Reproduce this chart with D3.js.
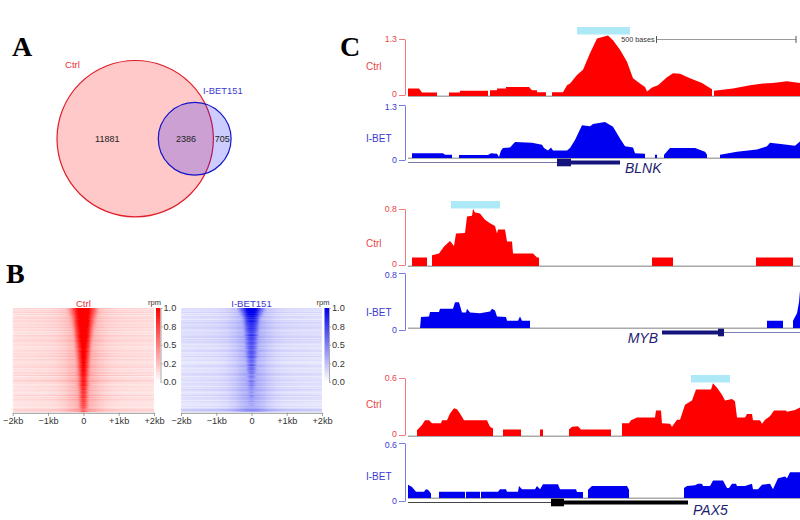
<!DOCTYPE html>
<html><head><meta charset="utf-8">
<script src="https://cdn.jsdelivr.net/npm/d3@7"></script>
<style>
html,body{margin:0;padding:0;background:#fff}
svg{display:block}
text{font-family:"Liberation Sans",Arial,sans-serif}
</style></head><body><svg id="c" width="800" height="520"></svg>
<script>
// ---------- Panel A: overlap counts
const vennCounts = {ctrlOnly: 11881, both: 2386, ibetOnly: 705};

// ---------- Panel B: per-row readings (top to bottom of the heat maps)
const hmTicks = [-2, -1, 0, 1, 2];
const hmTickLabels = ["\u22122kb", "\u22121kb", "0", "+1kb", "+2kb"];
const barTicks = [0, 0.25, 0.5, 0.75, 1];
const barLabels = ["0.0", "0.2", "0.5", "0.8", "1.0"];
const ctrlRowBg = [.20,.17,.22,.19,.16,.20,.17,.14,.19,.16,.13,.18,.15,.12,.17,.14,.19,.13,.16,.12,.15,.18,.11,.14,.20,.12,.15,.10,.13,.17,.11,.14,.19,.12,.10,.15,.23,.12,.09,.14,.11,.17,.10,.13,.09,.12,.15,.10,.13,.11,.14,.22];
const ctrlPeak = [1,1,1,1,1,1,1,1,1,1,1,1,.98,.98,1,.96,1,.95,.96,.98,.92,.95,.92,.9,.94,.9,.88,.92,.86,.88,.84,.86,.82,.85,.8,.82,.84,.76,.8,.72,.76,.7,.74,.66,.7,.62,.66,.6,.62,.58,.55,.5];
const ctrlWidth = [.38,.38,.37,.35,.34,.33,.32,.31,.30,.29,.28,.27,.27,.26,.25,.24,.24,.23,.22,.22,.21,.21,.20,.20,.19,.19,.19,.18,.18,.18,.17,.17,.17,.17,.16,.16,.16,.16,.16,.16,.15,.15,.15,.15,.15,.15,.15,.15,.15,.15,.15,.15];
const ibetRowBg = [.16,.15,.19,.14,.17,.13,.16,.19,.12,.15,.18,.11,.16,.13,.19,.11,.14,.17,.10,.15,.12,.18,.10,.14,.20,.11,.15,.09,.13,.17,.10,.14,.12,.18,.09,.13,.16,.10,.14,.08,.12,.16,.09,.13,.10,.15,.08,.12,.09,.13,.15,.26];
const ibetPeak = [.95,.95,.92,.9,.85,.82,.78,.74,.72,.7,.72,.68,.66,.68,.62,.65,.6,.64,.58,.62,.6,.56,.6,.55,.62,.52,.56,.5,.55,.48,.52,.46,.5,.44,.48,.42,.45,.4,.43,.38,.4,.36,.38,.34,.35,.3,.32,.28,.3,.26,.24,.22];
const ibetWidth = [.36,.34,.32,.30,.28,.27,.26,.26,.25,.24,.24,.23,.22,.22,.22,.21,.21,.21,.20,.20,.20,.19,.19,.19,.19,.18,.18,.18,.17,.17,.17,.17,.16,.16,.16,.16,.16,.16,.16,.15,.15,.15,.15,.15,.15,.15,.15,.15,.15,.15,.15,.15];
const hmBins = [];
for (let i = -40; i <= 40; i++) hmBins.push(i / 20);

// ---------- Panel C: coverage tracks. [position along the 392-unit window, % of track maximum]; null = gap
const blnkCtrl = [[0,13],[11,13],[14,6],[29,6],[29,null],[41,null],[41,6],[52,6],[52,9],[80,9],[80,null],[82,null],[82,10],[89,10],[89,13],[98,13],[98,16],[121,16],[124,10],[129,10],[129,6.5],[138,6.5],[138,null],[144,null],[144,6.5],[155,6.5],[159,19],[162,22],[169,37],[175,46],[182,75],[189,101],[200,106],[205,98],[212,81],[219,60],[225,31],[232,22],[237,16],[239,8],[244,15],[250,19],[259,33],[265,40],[272,39],[282,31],[294,23],[304,12],[304,null],[306,null],[306,9],[325,13],[342,19],[355,22],[365,23],[379,26],[392,23]];
const blnkIbet = [[4,9],[35,9],[37,6],[44,6],[44,null],[51,null],[51,5.6],[80,5.6],[83,9],[89,8],[91,2],[93,14],[95,19],[102,20],[107,30],[124,29],[134,25],[136,19],[140,14],[143,20],[145,14],[159,14],[162,19],[167,34],[174,62],[182,60],[185,64],[197,68],[205,59],[212,37],[217,22],[225,20],[227,9],[237,8],[237,null],[247,null],[247,6],[249,6],[249,null],[256,null],[256,6],[262,19],[287,19],[297,12],[299,6],[299,null],[312,null],[312,6],[329,12],[349,16],[359,22],[362,29],[379,25],[387,23],[392,31]];
const mybCtrl = [[4,15],[19,15],[19,null],[24,null],[24,19],[31,22],[36,34],[42,44],[46,35],[48,57],[57,58],[59,87],[64,88],[65,100],[67,94],[72,92],[77,81],[82,75],[87,70],[89,57],[90,64],[97,64],[99,43],[104,43],[105,22],[125,22],[129,15],[131,15],[131,null],[244,null],[244,15],[265,15],[265,null],[348,null],[348,15],[385,15]];
const mybIbet = [[12,0],[13,20],[21,21],[22,29],[31,29],[32,35],[45,35],[47,47],[51,47],[54,28],[58,28],[59,35],[62,28],[72,27],[82,30],[84,35],[87,32],[89,21],[98,20],[99,13],[110,13],[112,21],[114,13],[122,13],[122,null],[359,null],[359,13],[375,13],[375,null],[385,null],[385,13],[389,27],[391,47],[392,68]];
const pax5Ctrl = [[9,0],[9,10],[14,19],[17,27],[21,27],[24,22],[33,22],[34,27],[39,27],[42,39],[46,48],[49,46],[52,39],[56,27],[79,27],[82,16],[85,13],[85,null],[95,null],[95,11],[113,11],[113,null],[132,null],[132,11],[135,11],[135,null],[161,null],[161,11],[164,16],[170,17],[173,11],[203,11],[203,null],[214,null],[214,22],[221,22],[223,27],[229,32],[247,32],[248,44],[253,44],[254,22],[262,21],[264,16],[269,28],[272,28],[277,54],[284,61],[288,80],[303,80],[305,91],[309,83],[314,71],[317,61],[324,64],[327,60],[329,32],[337,32],[339,38],[344,38],[345,27],[352,27],[354,21],[357,28],[362,34],[366,44],[378,44],[379,42],[387,45],[392,49]];
const pax5Ibet = [[0,24],[4,20],[8,11.5],[16,11.5],[18,16],[20,15],[23,8],[23,null],[31,null],[31,11.5],[57,11.5],[57,null],[58,null],[58,11.5],[72,11.5],[72,null],[73,null],[73,11.5],[90,11.5],[92,16],[98,16],[99,11.5],[110,11.5],[111,22],[114,16],[127,16],[129,22],[132,16],[135,25],[150,25],[152,16],[168,16],[169,11],[175,11],[175,null],[180,null],[180,15],[184,22],[219,22],[221,15],[221,null],[276,null],[276,18],[279,22],[287,23],[290,26],[294,26],[295,22],[302,22],[305,32],[315,32],[319,18],[321,18],[324,26],[328,26],[329,22],[337,22],[344,26],[345,16],[350,16],[354,24],[362,26],[365,16],[367,24],[370,36],[377,39],[379,36],[382,47],[392,47]];

const groups = [
 {max:1.3, ctrl:blnkCtrl, ibet:blnkIbet, top:39, base:96, axB:95, top2:105, base2:158, axB2:160, cy:66, iy:138,
  peak:[169,222], peakY:27, gene:"BLNK", geneX:625, geneY:173, geneAnchor:"start", lineY:162.5, geneCol:"#14147c", thinCol:"#77779f",
  thin:[0,149], box:[149,163], thick:[163,212]},
 {max:0.8, ctrl:mybCtrl, ibet:mybIbet, top:209, base:266, axB:265, top2:273, base2:328, axB2:330, cy:243, iy:312,
  peak:[43,92], peakY:201, gene:"MYB", geneX:658, geneY:343, geneAnchor:"end", lineY:332.5, geneCol:"#14147c", thinCol:"#7c7cb8",
  thin:[316,392], box:[310,316], thick:[254,310]},
 {max:0.6, ctrl:pax5Ctrl, ibet:pax5Ibet, top:378, base:436, axB:435, top2:443, base2:498, axB2:501, cy:404, iy:476,
  peak:[283,322], peakY:375, gene:"PAX5", geneX:693, geneY:514.5, geneAnchor:"start", lineY:502.5, geneCol:"#000", thinCol:"#444",
  thin:[0,143], box:[143,156], thick:[156,280]}
];

const svg = d3.select("#c");
const RED="#ff0000", BLUE="#0000f0";

// panel letters
[["A",12,56],["B",6,283],["C",340,56]].forEach(([t,x,y])=>{
  svg.append("text").attr("x",x).attr("y",y).text(t)
    .style("font-family","'Liberation Serif',serif").style("font-weight","bold").style("font-size","28px").attr("fill","#000");
});

// ---------- Venn
const rScale = d3.scaleSqrt().domain([0, vennCounts.ctrlOnly+vennCounts.both]).range([0,78.2]);
const vx = d3.scaleLinear().domain([0,100]).range([135.2,194.7]);
const venn = svg.append("g");
venn.append("circle").attr("cx",vx(0)).attr("cy",138.7).attr("r",rScale(vennCounts.ctrlOnly+vennCounts.both))
  .attr("fill","rgba(255,0,0,.21)").attr("stroke","#e01f2a").attr("stroke-width",1.2);
venn.append("circle").attr("cx",vx(100)).attr("cy",138.8).attr("r",rScale(vennCounts.both+vennCounts.ibetOnly))
  .attr("fill","rgba(0,0,255,.2)").attr("stroke","#1414c8").attr("stroke-width",1.2);
[[vennCounts.ctrlOnly,107.3],[vennCounts.both,186],[vennCounts.ibetOnly,222.3]].forEach(([v,x])=>{
  venn.append("text").attr("x",x).attr("y",142.3).attr("text-anchor","middle").attr("font-size",9).attr("fill","#222").text(v);
});
venn.append("text").attr("x",65).attr("y",67.5).attr("font-size",9.6).attr("fill","#e8303a").text("Ctrl");
venn.append("text").attr("x",203).attr("y",94).attr("font-size",9.4).attr("fill","#3a3ad0").text("I-BET151");

// ---------- Heat maps
const defs = svg.append("defs");
defs.append("filter").attr("id","soft").attr("x","-2%").attr("y","-2%").attr("width","104%").attr("height","104%")
  .append("feGaussianBlur").attr("stdDeviation","1 0.5");
function heat(opts){
  const {x0,x1,title,col,titleCol,bg,peak,width,barX,id}=opts;
  const y0=307.7,y1=412.3;
  const n=bg.length;
  // each reading covers two one-pixel scan rows; the second row carries the streak of another reading
  const rows=d3.range(n*2);
  const x=d3.scaleLinear().domain([-2,2]).range([x0,x1]);
  const y=d3.scaleBand().domain(rows).range([y0,y1]);
  const colour=d3.scaleLinear().domain([0,1]).range(["#ffffff",col]).clamp(true);
  const clipId="clip"+id;
  defs.append("clipPath").attr("id",clipId).append("rect").attr("x",x0).attr("y",y0).attr("width",x1-x0).attr("height",y1-y0);
  const g=svg.append("g").attr("clip-path",`url(#${clipId})`).append("g").attr("filter","url(#soft)");
  const cw=(x1-x0)/(hmBins.length-1);
  rows.forEach(r=>{
    const i=Math.floor(r/2);
    const b=r%2?bg[(i*7+13)%n]:bg[i];
    const pk=r%2?(peak[i]+peak[(i*7+13)%n])/2*.4+peak[i]*.6:peak[i];
    const w=width[i];
    g.selectAll(null).data(hmBins).join("rect")
      .attr("x",d=>x(d)-cw/2).attr("y",y(r)).attr("width",cw+.4).attr("height",y.bandwidth()+.4)
      .attr("shape-rendering","crispEdges")
      .attr("fill",d=>{
        const core=1.15*pk*Math.exp(-Math.pow(Math.abs(d)/w,2.4));
        const halo=.18*Math.exp(-Math.pow(d/.5,2));
        const edge=.02+b*(1-.3*Math.abs(d)/2);
        return colour(Math.max(core, edge+halo));
      });
  });
  const ax=d3.axisBottom(x).tickValues(hmTicks).tickFormat((d,i)=>hmTickLabels[i]).tickSize(3).tickSizeOuter(0);
  const ag=svg.append("g").attr("transform",`translate(0,${y1+.5})`).call(ax);
  ag.selectAll("path,line").attr("stroke","#999");
  ag.selectAll("text").attr("font-size",9.2).attr("fill","#333").attr("dy","0.55em").style("font-family","'Liberation Sans',sans-serif");
  svg.append("text").attr("x",x(0)).attr("y",306.5).attr("text-anchor","middle").attr("font-size",9.6).attr("fill",titleCol).text(title);
  // colour bar
  const gr=defs.append("linearGradient").attr("id","grad"+id).attr("x1",0).attr("x2",0).attr("y1",1).attr("y2",0);
  barTicks.forEach(t=>gr.append("stop").attr("offset",t).attr("stop-color",colour(t)));
  const by=d3.scaleLinear().domain([0,1]).range([381.7,308]);
  svg.append("rect").attr("x",barX).attr("y",by(1)).attr("width",4.5).attr("height",by(0)-by(1)).attr("fill",`url(#grad${id})`);
  const bax=d3.axisRight(by).tickValues(barTicks).tickFormat((d,i)=>barLabels[i]).tickSize(2).tickSizeOuter(0).tickPadding(1);
  const bg2=svg.append("g").attr("transform",`translate(${barX+4.5},0)`).call(bax);
  bg2.selectAll("path,line").attr("stroke","#aaa");
  bg2.selectAll("text").attr("font-size",9.2).attr("fill","#333").style("font-family","'Liberation Sans',sans-serif");
  svg.append("text").attr("x",barX+5).attr("y",305).attr("text-anchor","end").attr("font-size",7.5).attr("fill","#333").text("rpm");
}
heat({x0:12.7,x1:154,title:"Ctrl",col:"#ff0000",titleCol:"#e8303a",bg:ctrlRowBg,peak:ctrlPeak,width:ctrlWidth,barX:156,id:"a"});
heat({x0:181,x1:322,title:"I-BET151",col:"#0000ee",titleCol:"#3a3ad0",bg:ibetRowBg,peak:ibetPeak,width:ibetWidth,barX:324.5,id:"b"});

// ---------- Tracks
const px=d3.scaleLinear().domain([0,392]).range([408,800]);
function track(data,max,top,base,axB,col,axCol,txtCol,label,labelY,nudge){
  const y=d3.scaleLinear().domain([0,100]).range([base,top]);
  const ya=d3.scaleLinear().domain([0,max]).range([axB,top]);
  svg.append("line").attr("x1",px(0)).attr("x2",px(392)).attr("y1",base+.2).attr("y2",base+.2).attr("stroke","#aaa").attr("stroke-width",1.4);
  const area=d3.area().defined(d=>d[1]!==null).x(d=>px(d[0])).y0(base).y1(d=>y(d[1]));
  svg.append("path").attr("d",area(data)).attr("fill",col);
  const ag=svg.append("g").attr("transform",`translate(${px(0)-3},0)`)
    .call(d3.axisLeft(ya).tickValues([0,max]).tickFormat(d=>d===0?"0":String(d)).tickSize(6).tickSizeOuter(0).tickPadding(2));
  ag.selectAll("path,line").attr("stroke",axCol);
  ag.selectAll("text").attr("font-size",8.8).attr("fill",txtCol).style("font-family","'Liberation Sans',sans-serif");
  ag.selectAll(".tick").filter(d=>nudge==="up"?d===0:d===max).select("text").attr("y",nudge==="up"?-1.5:1.5);
  svg.append("text").attr("x",366).attr("y",labelY+3.5).attr("font-size",10).attr("fill",txtCol).text(label);
}
groups.forEach(g=>{
  track(g.ctrl,g.max,g.top,g.base,g.axB,RED,"#f07a7a","#e8454a","Ctrl",g.cy,"up");
  track(g.ibet,g.max,g.top2,g.base2,g.axB2,BLUE,"#7a7ae6","#3a3ad0","I-BET",g.iy,"down");
  // peak marker
  svg.append("rect").attr("x",px(g.peak[0])).attr("y",g.peakY).attr("width",px(g.peak[1])-px(g.peak[0])).attr("height",7.5).attr("fill","#aee9f8");
  // gene model
  svg.append("line").attr("x1",px(g.thin[0])).attr("x2",px(g.thin[1])).attr("y1",g.lineY).attr("y2",g.lineY).attr("stroke",g.thinCol).attr("stroke-width",1);
  svg.append("rect").attr("x",px(g.thick[0])).attr("y",g.lineY-2).attr("width",px(g.thick[1])-px(g.thick[0])).attr("height",4).attr("fill",g.geneCol);
  svg.append("rect").attr("x",px(g.box[0])).attr("y",g.lineY-3.8).attr("width",px(g.box[1])-px(g.box[0])).attr("height",7.6).attr("fill",g.geneCol);
  svg.append("text").attr("x",g.geneX).attr("y",g.geneY).attr("text-anchor",g.geneAnchor).attr("font-size",14).attr("font-style","italic").attr("fill","#1c1c70").text(g.gene);
});

// scale bar: 500 bases
const sb=svg.append("g");
sb.append("text").attr("x",654.5).attr("y",42).attr("text-anchor","end").attr("font-size",7.2).attr("fill","#333").text("500 bases");
const bases=d3.scaleLinear().domain([0,500]).range([656.5,796]);
sb.append("line").attr("x1",bases(0)).attr("x2",bases(500)).attr("y1",39.5).attr("y2",39.5).attr("stroke","#999");
[0,500].forEach(b=>sb.append("line").attr("x1",bases(b)).attr("x2",bases(b)).attr("y1",36).attr("y2",43).attr("stroke","#555"));
</script></body></html>
